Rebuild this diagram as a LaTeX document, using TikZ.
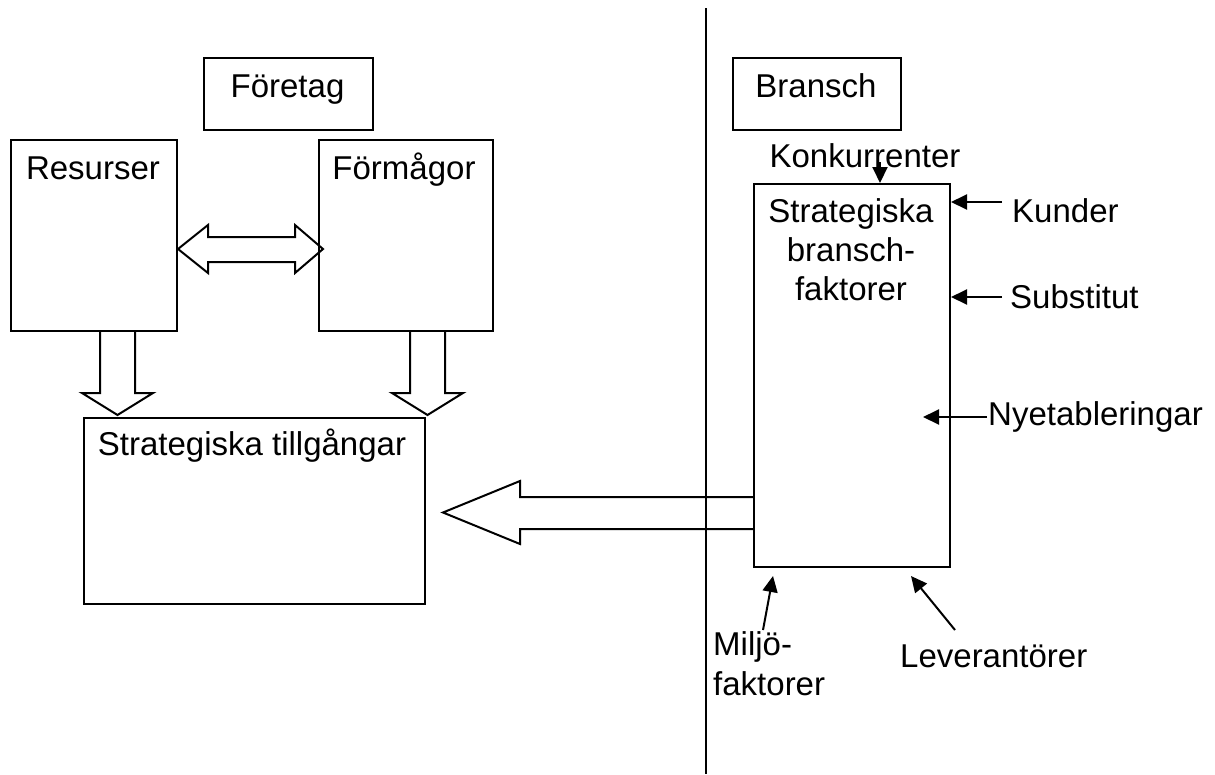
\documentclass[tikz,border=0pt]{standalone}
\usepackage{fontspec}
\setmainfont{Liberation Sans}
\usetikzlibrary{arrows.meta}
\begin{document}
\begin{tikzpicture}[x=1pt,y=-1pt,
  box/.style={draw, line width=2pt, inner sep=0pt, anchor=north west},
  lbl/.style={font=\fontsize{33}{38}\selectfont, inner sep=0pt, anchor=base},
  lblw/.style={font=\fontsize{33}{38}\selectfont, inner sep=0pt, anchor=base west},
  arr/.style={-{Triangle[length=16pt,width=15pt]}, line width=2pt},
  blk/.style={draw, line width=2pt, line join=miter}]
\useasboundingbox (0,0) rectangle (1215,774);

% divider
\coordinate (vtop) at (706,8);
\coordinate (vbot) at (706,774);
\draw[line width=2pt] (vtop) -- (vbot);

% boxes
\node[box, minimum width=169pt, minimum height=72pt] (foretag) at (203,57) {};
\node[box, minimum width=168pt, minimum height=72pt] (bransch) at (732,57) {};
\node[box, minimum width=166pt, minimum height=191pt] (resurser) at (10,139) {};
\node[box, minimum width=174pt, minimum height=191pt] (formagor) at (318,139) {};
\node[box, minimum width=341pt, minimum height=186pt] (tillg) at (83,417) {};
\node[box, minimum width=196pt, minimum height=383pt] (sbf) at (753,183) {};

% box texts
\node[lbl] (tforetag) at (287.5,97) {Företag};
\node[lbl] (tbransch) at (816,97) {Bransch};
\node[lbl] (tresurser) at (93,179) {Resurser};
\node[lbl] (tformagor) at (404,179) {Förmågor};
\node[lbl] (ttillg) at (252,455) {Strategiska tillgångar};
\node[lbl] (tsbf1) at (851,222) {Strategiska};
\node[lbl] (tsbf2) at (851,261) {bransch-};
\node[lbl] (tsbf3) at (851,300) {faktorer};

% outer labels
\node[lbl] (konk) at (865,167) {Konkurrenter};
\node[lblw] (kund) at (1012,222) {Kunder};
\node[lblw] (subst) at (1010,308) {Substitut};
\node[lblw] (nyet) at (988,425) {Nyetableringar};
\node[lblw] (lev) at (900,667) {Leverantörer};
\node[lblw] (milj1) at (713,655) {Miljö-};
\node[lblw] (milj2) at (713,695) {faktorer};

% small arrows
\coordinate (konkS) at (880,162);
\coordinate (kundS) at (1002,202);
\coordinate (substS) at (1002,297);
\coordinate (nyetS) at (987,417);
\coordinate (nyetE) at (923,417);
\coordinate (miljS) at (763,630);
\coordinate (miljE) at (773,576);
\coordinate (levS) at (955,630);
\coordinate (levE) at (911,576);
\draw[arr] (konkS) -- (sbf.north -| konkS);
\draw[arr] (kundS) -- (sbf.east |- kundS);
\draw[arr] (substS) -- (sbf.east |- substS);
\draw[arr] (nyetS) -- (nyetE);
\draw[arr] (miljS) -- (miljE);
\draw[arr] (levS) -- (levE);

% double block arrow between Resurser and Förmågor
\draw[blk] (178,249) -- (208,225) -- (208,237) -- (295,237) -- (295,225)
  -- (323,249) -- (295,273) -- (295,262) -- (208,262) -- (208,273) -- cycle;

% down block arrows
\draw[blk] (100,330) -- (100,393) -- (82,393) -- (117.5,415) -- (153,393) -- (135,393) -- (135,330);
\draw[blk] (410,330) -- (410,393) -- (392,393) -- (427.5,415) -- (463,393) -- (445,393) -- (445,330);

% left block arrow from branschfaktorer to tillgångar
\draw[blk] (753,497) -- (520,497) -- (520,481) -- (443,512.5) -- (520,544) -- (520,529) -- (753,529);
\end{tikzpicture}
\end{document}
